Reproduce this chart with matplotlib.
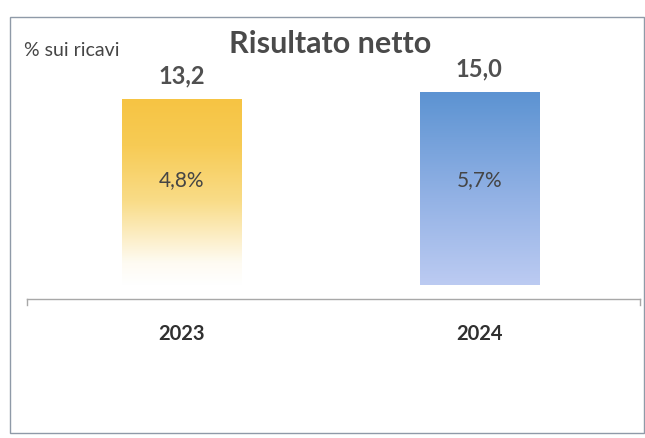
import numpy as np
import matplotlib
matplotlib.use("Agg")
import matplotlib.pyplot as plt
from matplotlib.colors import LinearSegmentedColormap
from matplotlib.patches import Rectangle

# data
years = ["2023", "2024"]
net_result = [13.2, 15.0]
margin_labels = ["4,8%", "5,7%"]
value_labels = ["13,2", "15,0"]

# gradient fills, bottom -> top
BAR_GRADIENTS = [
    [(0.0, "#FFFFFF"), (0.12, "#FEFBF2"), (0.45, "#F9DC88"), (0.75, "#F7CB55"), (1.0, "#F6C443")],
    [(0.0, "#BCCBF2"), (0.45, "#93B2E5"), (1.0, "#5C93D2")],
]
BAR_BASE = -34.6
TEXT_GRAY = "#454545"

plt.rcParams['font.family'] = ['Lato', 'DejaVu Sans']

fig = plt.figure(figsize=(6.45, 4.39), dpi=100)
W, H = 645, 439
ax = fig.add_axes([27 / W, 1 - 300 / H, 613 / W, 240 / H])
ax.set_xlim(-0.52, 1.54)
ax.set_ylim(-38.2, 23.5)

x = np.arange(len(years))
bars = ax.bar(x, np.array(net_result) - BAR_BASE, bottom=BAR_BASE, width=0.40,
              color="none", edgecolor="none")

for bar, stops, val, vlab, mlab in zip(bars, BAR_GRADIENTS, net_result,
                                       value_labels, margin_labels):
    bx, by = bar.get_x(), bar.get_y()
    bw, bh = bar.get_width(), bar.get_height()
    cmap = LinearSegmentedColormap.from_list("g", stops)
    grad = np.linspace(0, 1, 256).reshape(-1, 1)
    im = ax.imshow(grad, extent=[bx, bx + bw, by, by + bh], origin="lower",
                   aspect="auto", cmap=cmap, zorder=2)
    im.set_clip_path(bar)
    ax.text(bx + bw / 2, val + 6.2, vlab, ha="center", va="center",
            fontsize=17, fontweight="bold", color="#505050")
    ax.text(bx + bw / 2, 0.5, mlab, ha="center", va="center",
            fontsize=15, color=TEXT_GRAY, transform=ax.get_xaxis_transform())

ax.set_xticks(x)
ax.set_xticklabels(years, fontsize=14.5, fontweight="bold", color="#303030")
ax.tick_params(axis="x", length=0, pad=17)
ax.set_yticks([])
for s in ["top", "left", "right"]:
    ax.spines[s].set_visible(False)
ax.spines["bottom"].set_color("#A8A8A8")
ax.spines["bottom"].set_linewidth(1.0)
for ex in (0, 1):
    ax.plot([ex, ex], [0, -0.025], transform=ax.transAxes, color="#A8A8A8",
            lw=1.0, clip_on=False)

# outer chart frame
fig.patches.append(Rectangle((10 / W, 1 - 434 / H), 634 / W, 416 / H,
                             transform=fig.transFigure, fill=False,
                             edgecolor="#8F9AA8", lw=1.0))

fig.text(24 / W, 1 - 50 / H, "% sui ricavi", fontsize=14, color=TEXT_GRAY,
         va="center", ha="left")
fig.text(330 / W, 1 - 44 / H, "Risultato netto", fontsize=22,
         fontweight="bold", color="#4A4A4A", va="center", ha="center")

fig.savefig("out.png", dpi=100)
